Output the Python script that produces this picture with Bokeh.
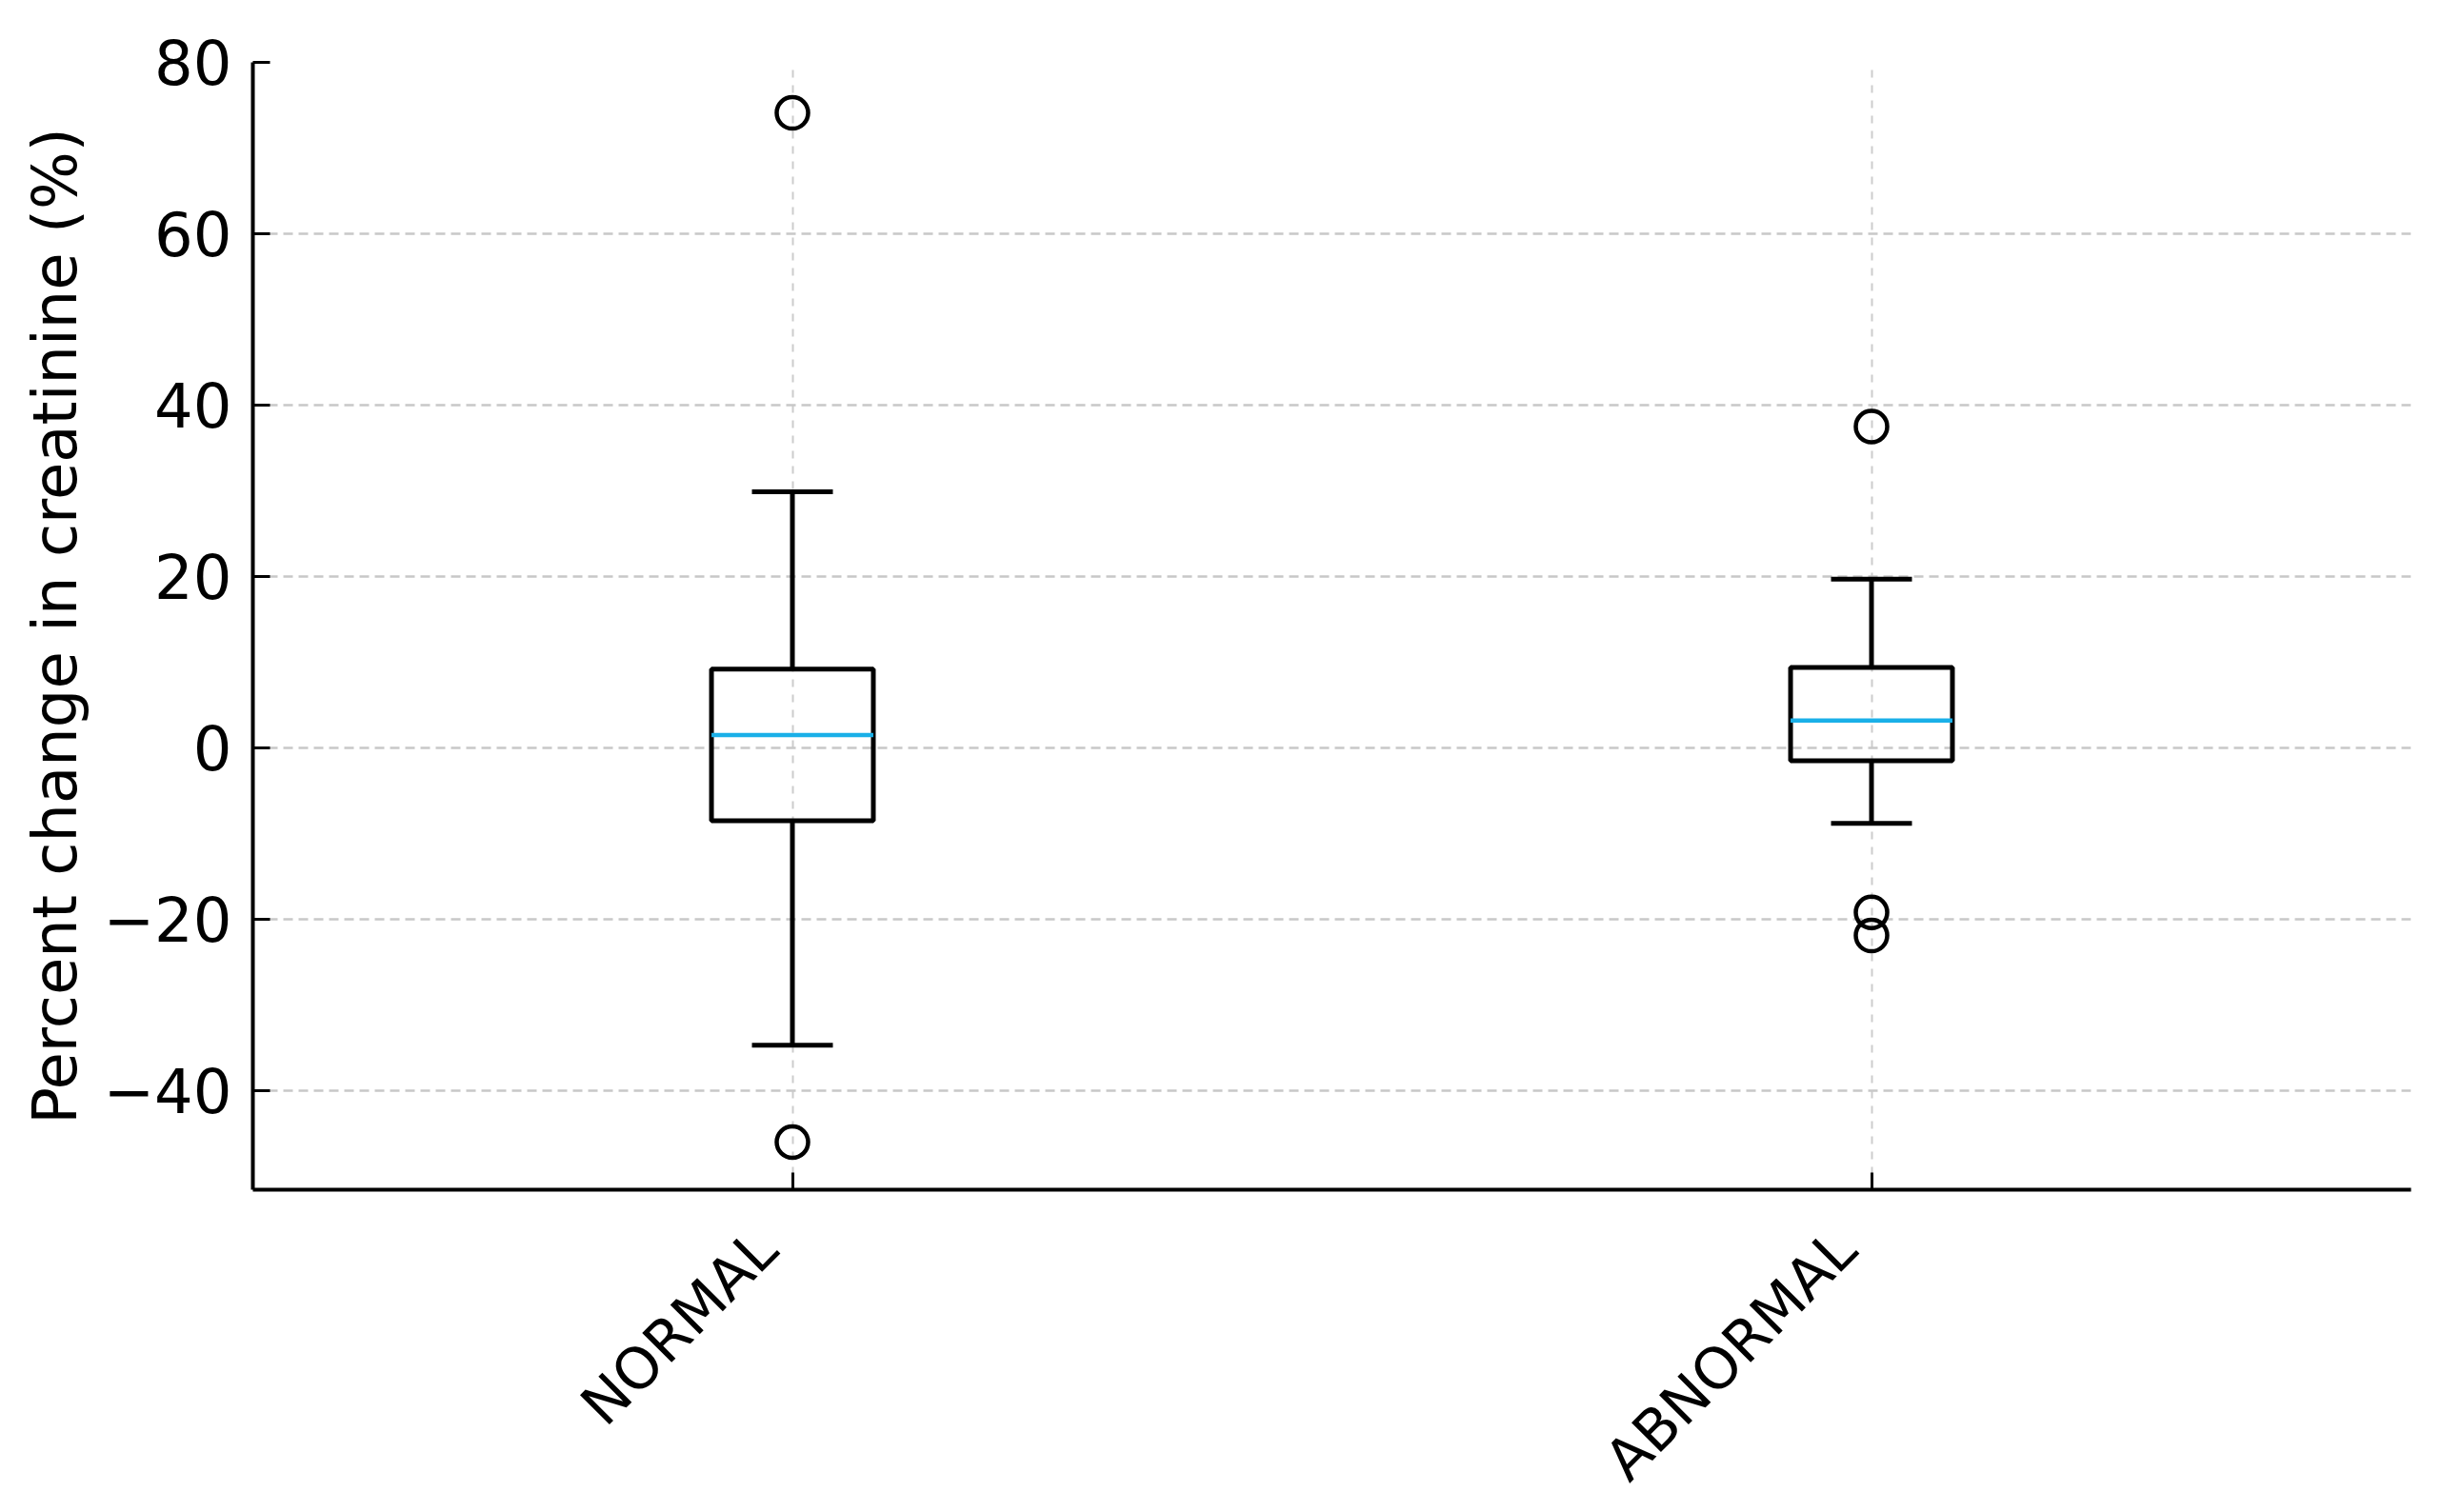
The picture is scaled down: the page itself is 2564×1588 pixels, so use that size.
from bokeh.plotting import figure
from bokeh.models import (FixedTicker, Range1d, ColumnDataSource, LinearAxis,
                          CustomJSTickFormatter, CustomLabelingPolicy)
from bokeh.embed import file_html
from bokeh.resources import INLINE
import math

# ---- data ----
categories = ["NORMAL", "ABNORMAL"]
q1 = [-8.5, -1.5]
median = [1.5, 3.2]
q3 = [9.2, 9.4]
whisker_low = [-34.7, -8.8]
whisker_high = [29.9, 19.7]
outlier_group = ["NORMAL", "NORMAL", "ABNORMAL", "ABNORMAL", "ABNORMAL"]
outlier_value = [74.1, -46.0, 37.5, -19.2, -21.9]
y_ticks = [-40, -20, 0, 20, 40, 60, 80]

# ---- styling ----
BOX_W = 0.15
CAP_W = BOX_W / 2
FONT = "DejaVu Sans"
FS = "64px"
XFS = "60px"
LABEL_SHIFT = 0.024  # rotated labels end slightly left of their tick

pos = [i + 1 for i in range(len(categories))]
pos_of = {c: i + 1 for i, c in enumerate(categories)}

p = figure(
    frame_width=2266, frame_height=1184,
    min_border_left=265, min_border_top=65, min_border_right=17, min_border_bottom=323,
    x_range=Range1d(0.5, 2.5), y_range=Range1d(-51.56, 80),
    output_backend="svg", toolbar_location=None,
)
p.outline_line_color = None
p.background_fill_color = "white"
p.border_fill_color = "white"

src = ColumnDataSource(dict(
    x=pos, q1=q1, med=median, q3=q3, lo=whisker_low, hi=whisker_high,
    left=[x - BOX_W / 2 for x in pos], right=[x + BOX_W / 2 for x in pos],
    cl=[x - CAP_W / 2 for x in pos], cr=[x + CAP_W / 2 for x in pos],
))

LW = 5
# whiskers
p.segment(x0="x", y0="q3", x1="x", y1="hi", source=src, line_color="black", line_width=LW)
p.segment(x0="x", y0="q1", x1="x", y1="lo", source=src, line_color="black", line_width=LW)
# caps
p.segment(x0="cl", y0="hi", x1="cr", y1="hi", source=src, line_color="black", line_width=LW)
p.segment(x0="cl", y0="lo", x1="cr", y1="lo", source=src, line_color="black", line_width=LW)
# boxes
p.quad(left="left", right="right", bottom="q1", top="q3", source=src,
       fill_alpha=0, line_color="black", line_width=LW)
# medians
p.segment(x0="left", y0="med", x1="right", y1="med", source=src,
          line_color="#1ab0e8", line_width=4.5)
# outliers
p.scatter(x=[pos_of[g] for g in outlier_group], y=outlier_value, marker="circle",
          size=33, fill_alpha=0, line_color="black", line_width=4.5)

# axes
p.xaxis.ticker = FixedTicker(ticks=pos)
p.yaxis.ticker = FixedTicker(ticks=y_ticks)
p.yaxis.major_label_overrides = {t: (str(t).replace("-", "\u2212")) for t in y_ticks}
p.yaxis.axis_label = "Percent change in creatinine (%)"

for ax in (p.xaxis, p.yaxis):
    ax.axis_line_color = "black"
    ax.axis_line_width = 4
    ax.major_tick_in = 18
    ax.major_tick_out = 0
    ax.major_tick_line_width = 3
    ax.major_tick_line_color = "black"
    ax.minor_tick_line_color = None
    ax.major_label_text_font = FONT
    ax.major_label_text_font_size = FS
    ax.major_label_text_color = "black"
    ax.axis_label_text_font = FONT
    ax.axis_label_text_font_size = FS
    ax.axis_label_text_font_style = "normal"
    ax.axis_label_text_color = "black"
p.yaxis.major_label_standoff = 22
p.yaxis.axis_label_standoff = 10

# the primary x axis draws only its line and tick marks (labels are hidden)
p.xaxis.major_label_policy = CustomLabelingPolicy(
    args=dict(n=len(pos)),
    code="for (let i = 0; i < n; i++) { indices.unset(i) }\nreturn indices",
)
p.xaxis.major_label_text_font_size = "1px"
p.xaxis.major_label_standoff = 0

# category labels (rotated 45 degrees, right end just left of each tick)
label_axis = LinearAxis(
    ticker=FixedTicker(ticks=[x - LABEL_SHIFT for x in pos]),
    formatter=CustomJSTickFormatter(
        args=dict(names=categories, shift=LABEL_SHIFT),
        code="return names[Math.round(tick + shift) - 1];",
    ),
    axis_line_color=None, major_tick_line_color=None, minor_tick_line_color=None,
    major_label_orientation=math.pi / 4, major_label_standoff=42,
    major_label_text_font=FONT, major_label_text_font_size=XFS,
    major_label_text_color="black",
)
p.add_layout(label_axis, "below")

# grid
p.ygrid.grid_line_color = "#c8c8c8"
p.ygrid.grid_line_width = 2.5
p.ygrid.grid_line_dash = "10 6"
p.xgrid.grid_line_color = "#cccccc"
p.xgrid.grid_line_width = 2
p.xgrid.grid_line_dash = "8 8"

open("out.html", "w").write(file_html(p, INLINE))
